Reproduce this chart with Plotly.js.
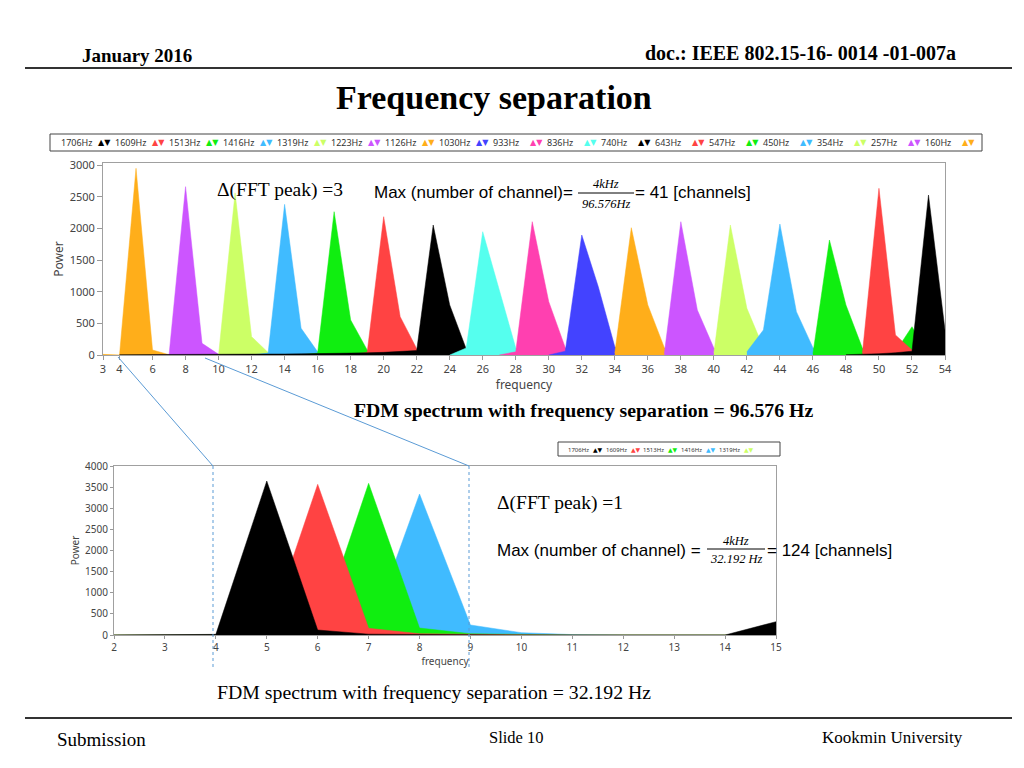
<!DOCTYPE html>
<html><head><meta charset="utf-8">
<script src="https://cdn.plot.ly/plotly-3.0.1.min.js"></script>
<style>html,body{margin:0;padding:0;background:#fff;}#chart{width:1024px;height:768px;}</style>
</head><body><div id="chart"></div>
<script>
// ===== Top chart: frequency separation 96.576 Hz =====
const topNames = ['1706Hz','1609Hz','1513Hz','1416Hz','1319Hz','1223Hz','1126Hz','1030Hz','933Hz','836Hz','740Hz','643Hz','547Hz','450Hz','354Hz','257Hz','160Hz'];
const topColors = ['#000000','#FF4343','#10EE10','#40BBFF','#CCFF66','#CC55FF','#FFAE1A','#4343FF','#FF40B0','#55FFEE','#000000','#FF4343','#10EE10','#40BBFF','#CCFF66','#CC55FF','#FFAE1A'];
const topStartBin = [48, 49, 46, 42, 40, 37, 34, 30, 27, 24, 4, 18, 15, 12, 9, 6, 3];
const power1706 = [5, 10, 20, 35, 60, 2526, 395];
const power1609 = [30, 2632, 316, 79, 0];
const power1513 = [20, 1816, 790, 105, 40, 50, 447, 0];
const power1416 = [50, 395, 2068, 684, 116, 0];
const power1319 = [30, 2053, 737, 116, 0];
const power1223 = [20, 2105, 710, 110, 0];
const power1126 = [30, 2010, 790, 116, 0];
const power1030 = [0, 60, 1895, 1078, 130, 0];
const power933  = [0, 50, 2105, 842, 116, 0];
const power836  = [0, 110, 1947, 1028, 110, 0];
const power740  = [5, 5, 6, 7, 8, 9, 10, 11, 12, 14, 16, 18, 20, 24, 28, 34, 42, 55, 70, 2053, 790, 95, 0];
const power643  = [0, 40, 2184, 605, 100, 0];
const power547  = [0, 30, 2263, 553, 80, 0];
const power450  = [0, 30, 2379, 421, 50, 0];
const power354  = [0, 0, 2560, 290, 40, 0];
const power257  = [0, 0, 2658, 184, 10, 0];
const power160  = [10, 0, 2948, 79, 5, 0];
const topPowers = [power1706, power1609, power1513, power1416, power1319, power1223, power1126, power1030, power933, power836, power740, power643, power547, power450, power354, power257, power160];
const topFreqTicks = [3, 4, 6, 8, 10, 12, 14, 16, 18, 20, 22, 24, 26, 28, 30, 32, 34, 36, 38, 40, 42, 44, 46, 48, 50, 52, 54];
const topPowerTicks = [0, 500, 1000, 1500, 2000, 2500, 3000];

// ===== Bottom chart: frequency separation 32.192 Hz =====
const botNames = ['1706Hz','1609Hz','1513Hz','1416Hz','1319Hz'];
const botColors = ['#000000','#FF4343','#10EE10','#40BBFF','#CCFF66'];
const botBins = [2, 3, 4, 5, 6, 7, 8, 9, 10, 11, 12, 13, 14, 15];
const bot1706 = [0, 0, 15, 3645, 118, 20, 10, 5, 0, 0, 0, 0, 0, 315];
const bot1609 = [0, 0, 0, 0, 3566, 158, 30, 10, 5, 0, 0, 0, 0, 0];
const bot1513 = [0, 0, 0, 0, 0, 3590, 165, 30, 10, 0, 0, 0, 0, 0];
const bot1416 = [0, 0, 0, 0, 0, 0, 3337, 237, 55, 10, 0, 0, 0, 0];
const bot1319 = [0, 0, 0, 0, 0, 0, 0, 0, 0, 0, 0, 0, 0, 0];
const botPowers = [bot1706, bot1609, bot1513, bot1416, bot1319];
const botPowerTicks = [0, 500, 1000, 1500, 2000, 2500, 3000, 3500, 4000];

// ---- helpers (pixel -> paper) ----
const W = 1024, H = 768;
const px = v => v / W;
const py = v => 1 - v / H;

const traces = [];
// lowest frequency drawn first so higher ones lie on top
for (let i = topNames.length - 1; i >= 0; i--) {
  const p = topPowers[i];
  traces.push({
    type: 'scatter', mode: 'lines', name: topNames[i],
    x: p.map((_, k) => topStartBin[i] + k), y: p,
    fill: 'tozeroy', fillcolor: topColors[i],
    line: {color: topColors[i], width: 0.5},
    xaxis: 'x', yaxis: 'y', hoverinfo: 'skip', showlegend: false
  });
}
for (let i = botNames.length - 1; i >= 0; i--) {
  traces.push({
    type: 'scatter', mode: 'lines', name: botNames[i],
    x: botBins, y: botPowers[i],
    fill: 'tozeroy', fillcolor: botColors[i],
    line: {color: botColors[i], width: 0.5},
    xaxis: 'x2', yaxis: 'y2', hoverinfo: 'skip', showlegend: false
  });
}

const serif = 'Liberation Serif, Times New Roman, serif';
const sans = 'Liberation Sans, Arial, sans-serif';
const uiFont = 'Noto Sans, Open Sans, sans-serif';

const annotations = [];
const shapes = [];
function txt(text, x, y, size, opts) {
  annotations.push(Object.assign({
    text: text, x: px(x), y: py(y), xref: 'paper', yref: 'paper',
    showarrow: false, xanchor: 'left', yanchor: 'middle',
    font: {family: serif, size: size, color: '#000'}
  }, opts || {}));
}
function line(x0, y0, x1, y1, color, width, dash) {
  shapes.push({type: 'line', xref: 'paper', yref: 'paper',
    x0: px(x0), y0: py(y0), x1: px(x1), y1: py(y1),
    line: {color: color, width: width, dash: dash || 'solid'}});
}

// header / footer
txt('<b>January 2016</b>', 80, 55, 19);
txt('<b>doc.: IEEE 802.15-16- 0014 -01-007a</b>', 958, 53, 20, {xanchor: 'right'});
line(25, 68, 1012, 68, '#333', 2);
txt('<b>Frequency separation</b>', 494, 98, 34, {xanchor: 'center'});
line(25, 718, 1012, 718, '#333', 2);
txt('Submission', 55, 739, 19);
txt('Slide 10', 516, 737, 16.5, {xanchor: 'center'});
txt('Kookmin University', 965, 737, 17, {xanchor: 'right'});

// top legend (label followed by its marker)
shapes.push({type: 'rect', xref: 'paper', yref: 'paper', x0: px(50), x1: px(982), y0: py(151), y1: py(134),
  line: {color: '#444', width: 1}, fillcolor: 'rgba(0,0,0,0)'});
topNames.forEach((n, i) => {
  const x0 = 59 + 54 * i;
  txt(n, x0, 143, 9, {font: {family: uiFont, size: 9, color: '#333'}});
  txt('▲▼', x0 + 37, 143, 8, {font: {family: 'DejaVu Sans', size: 8, color: topColors[i]}});
});
// bottom legend
shapes.push({type: 'rect', xref: 'paper', yref: 'paper', x0: px(558), x1: px(780), y0: py(456), y1: py(442),
  line: {color: '#444', width: 1}, fillcolor: 'rgba(0,0,0,0)'});
botNames.forEach((n, i) => {
  const x0 = 566 + 37.7 * i;
  txt(n, x0, 449.5, 6, {font: {family: uiFont, size: 6, color: '#333'}});
  txt('▲▼', x0 + 25, 449.5, 6, {font: {family: 'DejaVu Sans', size: 6, color: botColors[i]}});
});

// top annotations
txt('Δ(FFT peak) =3', 215, 190, 19.5);
txt('Max (number of channel)=', 372, 193, 17, {font: {family: sans, size: 17, color: '#000'}});
txt('<i>4kHz</i>', 606, 184, 12.5, {xanchor: 'center'});
line(578, 193, 634, 193, '#000', 1);
txt('<i>96.576Hz</i>', 606, 204, 12.5, {xanchor: 'center'});
txt('= 41 [channels]', 633, 193, 17, {font: {family: sans, size: 17, color: '#000'}});
txt('<b>FDM spectrum with frequency separation = 96.576 Hz</b>', 583, 410, 19.8, {xanchor: 'center'});

// zoom connectors
line(118, 357, 213, 466, '#5B9BD5', 1);
line(205, 358, 469, 466, '#5B9BD5', 1);
line(213, 466, 213, 668, '#5B9BD5', 1, 'dot');
line(469, 466, 469, 668, '#5B9BD5', 1, 'dot');

// bottom annotations
txt('Δ(FFT peak) =1', 495, 503, 19.5);
txt('Max (number of channel) =', 495, 550, 17, {font: {family: sans, size: 17, color: '#000'}});
txt('<i>4kHz</i>', 736, 541, 12.5, {xanchor: 'center'});
line(707, 549, 765, 549, '#000', 1);
txt('<i>32.192 Hz</i>', 736, 559, 12.5, {xanchor: 'center'});
txt('= 124 [channels]', 765, 550, 17, {font: {family: sans, size: 17, color: '#000'}});
txt('FDM spectrum with frequency separation = 32.192 Hz', 434, 692, 19.8, {xanchor: 'center'});

const axCommon = {
  showgrid: false, zeroline: false, showline: true, mirror: true,
  linecolor: '#a0a0a0', linewidth: 1, ticks: 'outside', tickcolor: '#999',
  fixedrange: true
};
const layout = {
  width: W, height: H, margin: {l: 0, r: 0, t: 0, b: 0},
  paper_bgcolor: '#fff', plot_bgcolor: '#fff', showlegend: false,
  xaxis: Object.assign({}, axCommon, {
    domain: [px(103), px(945)], range: [3, 54], anchor: 'y',
    tickmode: 'array', tickvals: topFreqTicks, ticklen: 4,
    tickfont: {family: uiFont, size: 11, color: '#444'},
    title: {text: 'frequency', font: {family: uiFont, size: 12, color: '#444'}, standoff: 3}
  }),
  yaxis: Object.assign({}, axCommon, {
    domain: [py(355), py(163)], range: [0, 3032], anchor: 'x',
    tickmode: 'array', tickvals: topPowerTicks, ticklen: 5,
    tickfont: {family: uiFont, size: 11, color: '#444'},
    title: {text: 'Power', font: {family: uiFont, size: 12, color: '#444'}, standoff: 3}
  }),
  xaxis2: Object.assign({}, axCommon, {
    domain: [px(114), px(776)], range: [2, 15], anchor: 'y2',
    tickmode: 'array', tickvals: botBins, ticklen: 3,
    tickfont: {family: uiFont, size: 10, color: '#444'},
    title: {text: 'frequency', font: {family: uiFont, size: 10, color: '#444'}, standoff: 4}
  }),
  yaxis2: Object.assign({}, axCommon, {
    domain: [py(635), py(466)], range: [0, 4000], anchor: 'x2',
    tickmode: 'array', tickvals: botPowerTicks, ticklen: 3,
    tickfont: {family: uiFont, size: 10, color: '#444'},
    title: {text: 'Power', font: {family: uiFont, size: 10, color: '#444'}, standoff: 3}
  }),
  annotations: annotations,
  shapes: shapes
};
Plotly.newPlot('chart', traces, layout, {displayModeBar: false, staticPlot: true});
</script>
</body></html>
